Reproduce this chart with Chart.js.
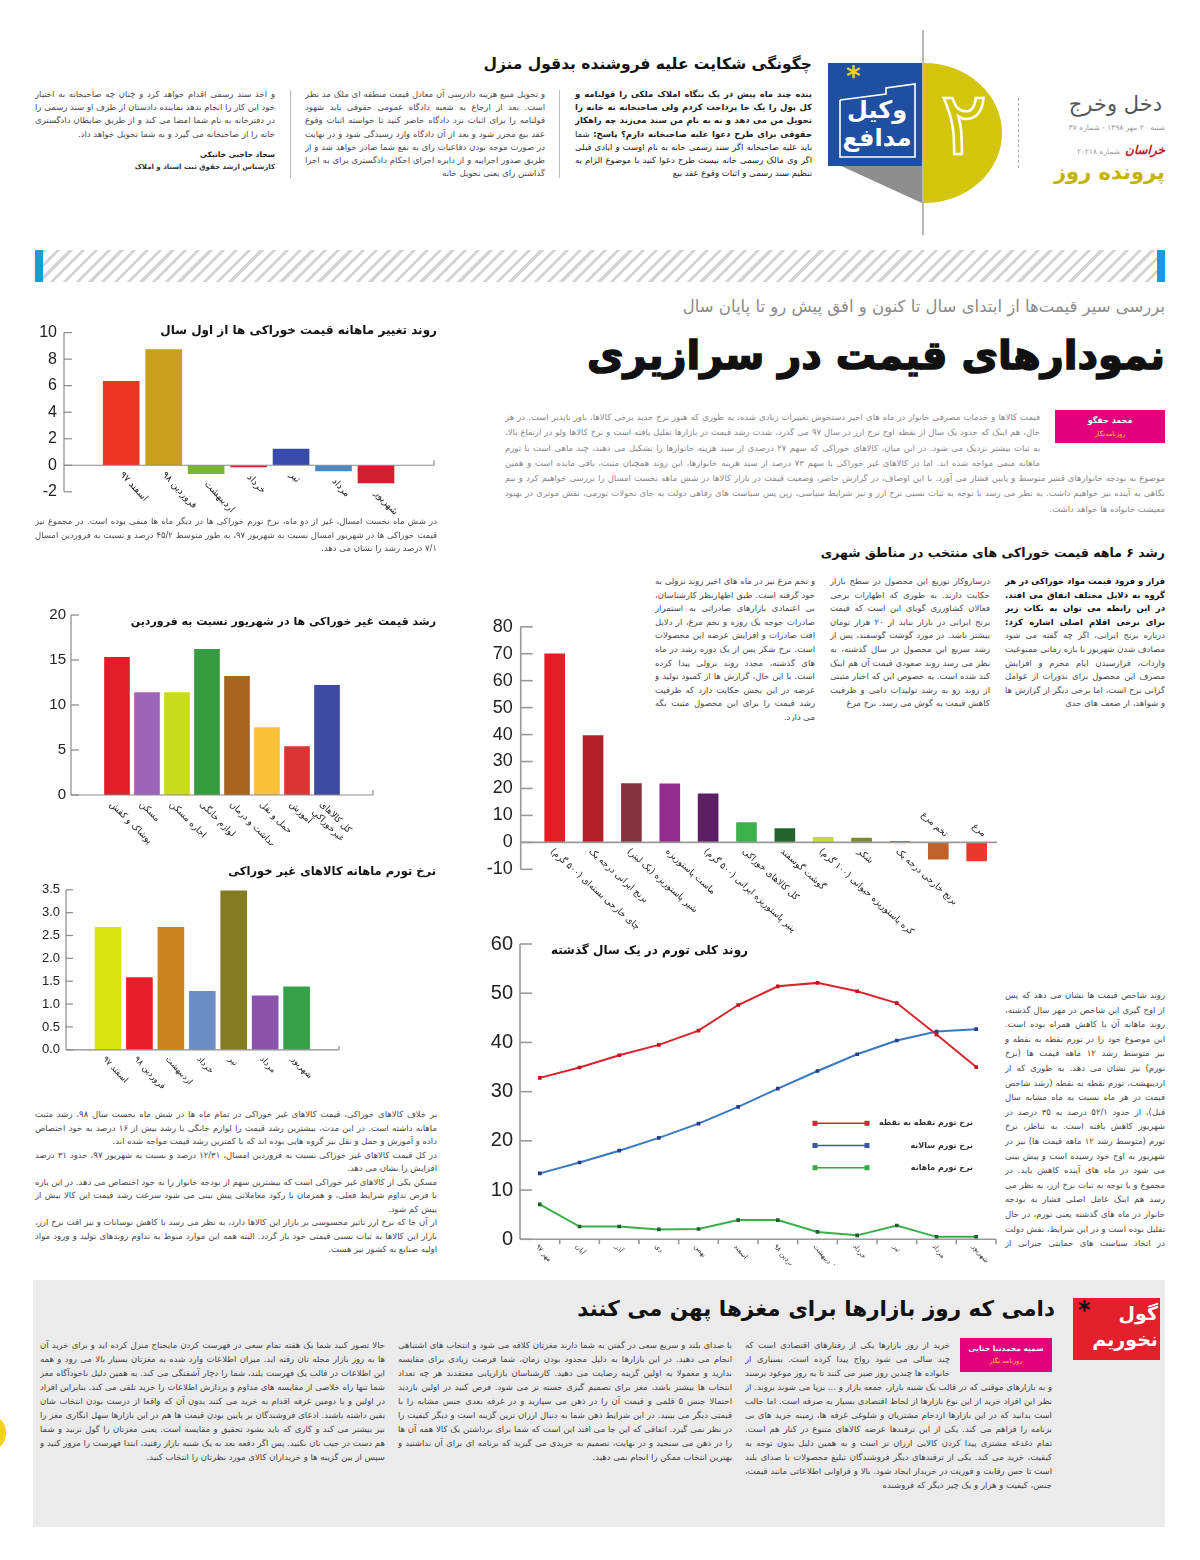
<!DOCTYPE html>
<html lang="fa">
<head>
<meta charset="utf-8">
<title>نمودارهای قیمت در سرازیری</title>
<script src="https://cdn.jsdelivr.net/npm/chart.js@4.4.1/dist/chart.umd.min.js"></script>
<style>
  html, body { margin: 0; padding: 0; background: #fff; }
  #page { position: relative; width: 1200px; height: 1560px; overflow: hidden; font-family: "DejaVu Sans", sans-serif; color: #222; }
  .abs { position: absolute; }
  .fa { direction: rtl; font-family: "DejaVu Sans", sans-serif; }
  .body { font-size: 8.5px; line-height: 13.5px; color: #4a4a4a; text-align: justify; overflow: hidden; }
  .ttl { font-weight: bold; white-space: nowrap; color: #111; }
  .chart { position: absolute; direction: ltr; }
  .sep { position: absolute; width: 1px; background: #bbb; }
</style>
</head>
<body>
<div id="page">

  <!-- header: legal Q&A -->
  <div class="abs fa ttl" style="right:388px; top:55px; font-size:15.5px">چگونگی شکایت علیه فروشنده بدقول منزل</div>
  <div class="abs fa body" style="right:388px; top:88px; width:237px; height:96px; line-height:13.2px; color:#222">
    <b>بنده چند ماه پیش در یک بنگاه املاک ملکی را قولنامه و کل پول را یک جا پرداخت کردم ولی صاحبخانه نه خانه را تحویل من می دهد و نه به نام من سند می‌زند چه راهکار حقوقی برای طرح دعوا علیه صاحبخانه دارم؟</b>
    <b>پاسخ:</b> شما باید علیه صاحبخانه اگر سند رسمی خانه به نام اوست و ایادی قبلی اگر وی مالک رسمی خانه نیست طرح دعوا کنید با موضوع الزام به تنظیم سند رسمی و اثبات وقوع عقد بیع
  </div>
  <div class="sep" style="left:559px; top:90px; height:88px"></div>
  <div class="abs fa body" style="right:655px; top:88px; width:240px; height:96px; line-height:13.2px">
    و تحویل مبیع هزینه دادرسی آن معادل قیمت منطقه ای ملک مد نظر است. بعد از ارجاع به شعبه دادگاه عمومی حقوقی باید شهود قولنامه را برای اثبات نزد دادگاه حاضر کنید تا خواسته اثبات وقوع عقد بیع محرز شود و بعد از آن دادگاه وارد رسیدگی شود و در نهایت در صورت موجه بودن دفاعیات رای به نفع شما صادر خواهد شد و از طریق صدور اجراییه و از دایره اجرای احکام دادگستری برای به اجرا گذاشتن رای یعنی تحویل خانه
  </div>
  <div class="sep" style="left:290px; top:90px; height:88px"></div>
  <div class="abs fa body" style="right:925px; top:88px; width:240px; height:56px; line-height:13.2px">
    و اخذ سند رسمی اقدام خواهد کرد و چنان چه صاحبخانه به اختیار خود این کار را انجام ندهد نماینده دادستان از طرف او سند رسمی را در دفترخانه به نام شما امضا می کند و از طریق ضابطان دادگستری خانه را از صاحبخانه می گیرد و به شما تحویل خواهد داد.
  </div>
  <div class="abs fa" style="right:925px; top:150px; font-size:7.5px; font-weight:bold; color:#222; white-space:nowrap">سجاد حاجبی خانیکی</div>
  <div class="abs fa" style="right:925px; top:163px; font-size:7px; font-weight:bold; color:#333; white-space:nowrap">کارشناس ارشد حقوق ثبت اسناد و املاک</div>

  <!-- header: badge -->
  <div class="abs" style="left:922px; top:30px; width:2px; height:205px; background:#b8b8b8"></div>
  <div class="abs" style="left:924px; top:63px; width:78px; height:140px; background:#d3c40c; border-radius:0 78px 78px 0 / 0 70px 70px 0"></div>
  <div class="abs fa" style="left:932px; top:72px; width:64px; text-align:center; font-size:88px; line-height:104px; color:transparent; -webkit-text-stroke:2.5px #fff">۲</div>
  <div class="abs" style="left:828px; top:160px; width:94px; height:43px; background:#8e8e8e; clip-path:polygon(0 0,100% 0,100% 100%)"></div>
  <div class="abs" style="left:828px; top:63px; width:94px; height:103px; background:#1f4fa0"></div>
  <svg class="abs" style="left:828px; top:63px" width="94" height="103">
    <polyline points="12,37 58,31 58,25 87,21 87,94 12,94 12,37" fill="none" stroke="#fff" stroke-width="1.6"/>
  </svg>
  <div class="abs" style="left:846px; top:60px; font-size:28px; font-weight:bold; color:#e8d21a">*</div>
  <div class="abs fa" style="left:836px; top:96px; width:82px; text-align:center; font-size:24px; line-height:28px; font-weight:bold; color:#fff">وکیل<br>مدافع</div>
  <div class="abs" style="left:1018px; top:98px; height:70px; border-left:1px dashed #aaa"></div>
  <div class="abs fa" style="right:38px; top:92px; font-size:21px; color:#555; white-space:nowrap">دخل وخرج</div>
  <div class="abs fa" style="right:35px; top:123px; font-size:7.5px; color:#999; white-space:nowrap">شنبه ۲۰ مهر ۱۳۹۸ - شماره ۳۷</div>
  <div class="abs fa" style="right:35px; top:139px; white-space:nowrap"><span style="color:#c8102e; font-weight:bold; font-style:italic; font-size:12px">خراسان</span> <span style="color:#999; font-size:7.5px">شماره ۲۰۲۱۸</span></div>
  <div class="abs fa" style="right:35px; top:160px; font-size:21px; font-weight:bold; color:#c6b300; white-space:nowrap">پرونده روز</div>

  <!-- stripe bar -->
  <div class="abs" style="left:35px; top:250px; width:1130px; height:32px; background:repeating-linear-gradient(135deg,#fff 0 6px,#d4d4d4 6px 9px)"></div>
  <div class="abs" style="left:35px; top:250px; width:8px; height:32px; background:#1a9ad6"></div>
  <div class="abs" style="left:1157px; top:250px; width:8px; height:32px; background:#1a9ad6"></div>

  <!-- headline -->
  <div class="abs fa" style="right:35px; top:297px; font-size:16.5px; color:#8a8a8a; white-space:nowrap">بررسی سیر قیمت‌ها از ابتدای سال تا کنون و افق پیش رو تا پایان سال</div>
  <div class="abs fa ttl" style="right:35px; top:332px; font-size:40px; -webkit-text-stroke:1.5px #111">نمودارهای قیمت در سرازیری</div>
  <div class="abs fa body" style="left:505px; top:410px; width:660px; height:108px; line-height:15.3px; color:#888">
    <div style="float:right; width:110px; height:33px; margin:0 0 13px 15px; background:#e4007d; text-align:center; color:#fff; font-weight:bold; font-size:8px; line-height:13px; padding-top:4px; box-sizing:border-box">محمد حقگو<br><span style="color:#ffd23f; font-size:6.5px; font-weight:normal">روزنامه‌نگار</span></div>
    قیمت کالاها و خدمات مصرفی خانوار در ماه های اخیر دستخوش تغییرات زیادی شده، به طوری که هنوز نرخ جدید برخی کالاها، باور ناپذیر است. در هر حال، هم اینک که حدود یک سال از نقطه اوج نرخ ارز در سال ۹۷ می گذرد، شدت رشد قیمت در بازارها تقلیل یافته است و نرخ کالاها ولو در ارتفاع بالا، به ثبات بیشتر نزدیک می شود. در این میان، کالاهای خوراکی که سهم ۲۷ درصدی از سبد هزینه خانوارها را تشکیل می دهند، چند ماهی است با تورم ماهانه منفی مواجه شده اند. اما در کالاهای غیر خوراکی با سهم ۷۳ درصد از سبد هزینه خانوارها، این روند همچنان مثبت، باقی مانده است و همین موضوع به بودجه خانوارهای قشر متوسط و پایین فشار می آورد. با این اوصاف، در گزارش حاضر، وضعیت قیمت در بازار کالاها در شش ماهه نخست امسال را بررسی خواهیم کرد و نیم نگاهی به آینده نیز خواهیم داشت. به نظر می رسد با توجه به ثبات نسبی نرخ ارز و نیز شرایط سیاسی، زین پس سیاست های رفاهی دولت به جای تحولات تورمی، نقش موثری در بهبود معیشت خانواده ها خواهد داشت.
  </div>

  <!-- chart 1 -->
  <div class="chart" style="left:30px; top:316px; width:415px; height:206px"><canvas id="foodMonthlyChart"></canvas></div>
  <div class="abs fa ttl" style="right:763px; top:323px; font-size:12px">روند تغییر ماهانه قیمت خوراکی ها از اول سال</div>
  <div class="abs fa body" style="left:35px; top:515px; width:402px; height:42px">
    در شش ماه نخست امسال، غیر از دو ماه، نرخ تورم خوراکی ها در دیگر ماه ها منفی بوده است. در مجموع نیز قیمت خوراکی ها در شهریور امسال نسبت به شهریور ۹۷، به طور متوسط ۴۵/۲ درصد و نسبت به فروردین امسال ۷/۱ درصد رشد را نشان می دهد.
  </div>

  <!-- chart 2 -->
  <div class="chart" style="left:30px; top:600px; width:415px; height:245px"><canvas id="nonFoodGrowthChart"></canvas></div>
  <div class="abs fa ttl" style="right:764px; top:615px; font-size:11px">رشد قیمت غیر خوراکی ها در شهریور نسبت به فروردین</div>

  <!-- chart 3 -->
  <div class="chart" style="left:30px; top:876px; width:415px; height:215px"><canvas id="nonFoodMonthlyChart"></canvas></div>
  <div class="abs fa ttl" style="right:764px; top:864px; font-size:11.5px">نرخ تورم ماهانه کالاهای غیر خوراکی</div>
  <div class="abs fa body" style="left:35px; top:1108px; width:402px; height:150px">
    بر خلاف کالاهای خوراکی، قیمت کالاهای غیر خوراکی در تمام ماه ها در شش ماه نخست سال ۹۸، رشد مثبت ماهانه داشته است. در این مدت، بیشترین رشد قیمت را لوازم خانگی با رشد بیش از ۱۶ درصد به خود اختصاص داده و آموزش و حمل و نقل نیز گروه هایی بوده اند که با کمترین رشد قیمت مواجه شده اند.<br>
    در کل قیمت کالاهای غیر خوراکی نسبت به فروردین امسال، ۱۲/۳۱ درصد و نسبت به شهریور ۹۷، حدود ۳۱ درصد افزایش را نشان می دهد.<br>
    مسکن یکی از کالاهای غیر خوراکی است که بیشترین سهم از بودجه خانوار را به خود اختصاص می دهد. در این باره با فرض تداوم شرایط فعلی، و همزمان با رکود معاملاتی پیش بینی می شود سرعت رشد قیمت این کالا بیش از پیش کم شود.<br>
    از آن جا که نرخ ارز تاثیر محسوسی بر بازار این کالاها دارد، به نظر می رسد با کاهش نوسانات و نیز افت نرخ ارز، بازار این کالاها به ثبات نسبی قیمتی خود باز گردد. البته همه این موارد منوط به تداوم روندهای تولید و ورود مواد اولیه صنایع به کشور نیز هست.
  </div>

  <!-- chart 4 section -->
  <div class="abs fa ttl" style="right:35px; top:545px; font-size:12.5px">رشد ۶ ماهه قیمت خوراکی های منتخب در مناطق شهری</div>
  <div class="abs fa body" style="right:35px; top:575px; width:160px; height:146px; line-height:13.6px">
    <b style="color:#111">فراز و فرود قیمت مواد خوراکی در هر گروه به دلایل مختلف اتفاق می افتد. در این رابطه می توان به نکات زیر برای برخی اقلام اصلی اشاره کرد:</b>
    درباره برنج ایرانی، اگر چه گفته می شود مصادف شدن شهریور با بازه زمانی ممنوعیت واردات، فرارسیدن ایام محرم و افزایش مصرف این محصول برای نذورات از عوامل گرانی نرخ است، اما برخی دیگر از گزارش ها و شواهد، از ضعف های جدی
  </div>
  <div class="abs fa body" style="right:210px; top:575px; width:160px; height:146px; line-height:13.6px">
    درسازوکار توزیع این محصول در سطح بازار حکایت دارند. به طوری که اظهارات برخی فعالان کشاورزی گویای این است که قیمت برنج ایرانی در بازار نباید از ۲۰ هزار تومان بیشتر باشد. در مورد گوشت گوسفند، پس از رشد سریع این محصول در سال گذشته، به نظر می رسد روند صعودی قیمت آن هم اینک کند شده است. به خصوص این که اخبار مثبتی از روند رو به رشد تولیدات دامی و ظرفیت کاهش قیمت به گوش می رسد. نرخ مرغ
  </div>
  <div class="abs fa body" style="right:385px; top:575px; width:160px; height:146px; line-height:13.6px">
    و تخم مرغ نیز در ماه های اخیر روند نزولی به خود گرفته است. طبق اظهارنظر کارشناسان، بی اعتمادی بازارهای صادراتی به استمرار صادرات جوجه یک روزه و تخم مرغ، از دلایل افت صادرات و افزایش عرضه این محصولات است. نرخ شکر پس از یک دوره رشد در ماه های گذشته، مجدد روند نزولی پیدا کرده است. با این حال، گزارش ها از کمبود تولید و عرضه در این بخش حکایت دارد که ظرفیت رشد قیمت را برای این محصول مثبت نگه می دارد.
  </div>
  <div class="chart" style="left:476px; top:608px; width:529px; height:330px"><canvas id="foodItemsChart"></canvas></div>

  <!-- chart 5 -->
  <div class="chart" style="left:476px; top:925px; width:529px; height:340px"><canvas id="inflationChart"></canvas></div>
  <div class="abs fa ttl" style="right:452px; top:943px; font-size:12px">روند کلی تورم در یک سال گذشته</div>
  <div class="abs fa body" style="right:35px; top:988px; width:160px; height:265px; line-height:14.6px">
    روند شاخص قیمت ها نشان می دهد که پس از اوج گیری این شاخص در مهر سال گذشته، روند ماهانه آن با کاهش همراه بوده است. این موضوع خود را در تورم نقطه به نقطه و نیز متوسط رشد ۱۲ ماهه قیمت ها (نرخ تورم) نیز نشان می دهد. به طوری که از اردیبهشت، تورم نقطه به نقطه (رشد شاخص قیمت در هر ماه نسبت به ماه مشابه سال قبل)، از حدود ۵۲/۱ درصد به ۳۵ درصد در شهریور کاهش یافته است. به تناظر، نرخ تورم (متوسط رشد ۱۲ ماهه قیمت ها) نیز در شهریور به اوج خود رسیده است و پیش بینی می شود در ماه های آینده کاهش یابد. در مجموع و با توجه به ثبات نرخ ارز، به نظر می رسد هم اینک عامل اصلی فشار به بودجه خانوار در ماه های گذشته یعنی تورم، در حال تقلیل بوده است و در این شرایط، نقش دولت در اتخاذ سیاست های حمایتی جبرانی از قشرهای متوسط و ضعیف پررنگ تر خواهد شد.
  </div>

  <!-- bottom section -->
  <div class="abs" style="left:-14px; top:1418px; width:20px; height:30px; border-radius:50%; background:#f3d21c"></div>
  <div class="abs" style="left:33px; top:1280px; width:1132px; height:247px; background:#ebebeb"></div>
  <div class="abs" style="left:1073px; top:1298px; width:87px; height:62px; background:#e3202b"></div>
  <div class="abs fa" style="left:1073px; top:1300px; width:85px; text-align:right; font-size:19px; line-height:26px; font-weight:bold; color:#fff">گول<br>نخوریم</div>
  <div class="abs" style="left:1078px; top:1296px; font-size:24px; font-weight:bold; color:#111">*</div>
  <div class="abs fa ttl" style="right:145px; top:1296px; font-size:21.5px">دامی که روز بازارها برای مغزها پهن می کنند</div>
  <div class="abs fa body" style="right:148px; top:1338px; width:307px; height:175px; line-height:14px; color:#444">
    <div style="float:right; width:92px; height:34px; margin:0 0 8px 10px; background:#e4007d; text-align:center; color:#fff; font-weight:bold; font-size:7.5px; line-height:12px; padding-top:5px; box-sizing:border-box">سمیه محمدنیا حنایی<br><span style="color:#ffd23f; font-size:6.5px; font-weight:normal">روزنامه نگار</span></div>
    خرید از روز بازارها یکی از رفتارهای اقتصادی است که چند سالی می شود رواج پیدا کرده است. بسیاری از خانواده ها چندین روز صبر می کنند تا به روز موعود برسند و به بازارهای موقتی که در قالب یک شنبه بازار، جمعه بازار و ... برپا می شوند بروند. از نظر این افراد خرید از این نوع بازارها از لحاظ اقتصادی بسیار به صرفه است. اما جالب است بدانید که در این بازارها ازدحام مشتریان و شلوغی غرفه ها، زمینه خرید های بی برنامه را فراهم می کند. یکی از این ترفندها عرضه کالاهای متنوع در کنار هم است. تمام دغدغه مشتری پیدا کردن کالایی ارزان تر است و به همین دلیل بدون توجه به کیفیت، خرید می کند. یکی از ترفندهای دیگر فروشندگان تبلیغ محصولات با صدای بلند است تا حس رقابت و فوریت در خریدار ایجاد شود. بالا و فراوانی اطلاعاتی مانند قیمت، جنس، کیفیت و هزار و یک چیز دیگر که فروشنده
  </div>
  <div class="abs fa body" style="right:468px; top:1338px; width:334px; height:175px; line-height:14px; color:#444">
    با صدای بلند و سریع سعی در گفتن به شما دارند مغزتان کلافه می شود و انتخاب های اشتباهی انجام می دهید. در این بازارها به دلیل محدود بودن زمان، شما فرصت زیادی برای مقایسه ندارید و معمولا به اولین گزینه رضایت می دهید. کارشناسان بازاریابی معتقدند هر چه تعداد انتخاب ها بیشتر باشد، مغز برای تصمیم گیری خسته تر می شود. فرض کنید در اولین بازدید احتمالا جنس ۵ قلمی و قیمت آن را در ذهن می سپارید و در غرفه بعدی جنس مشابه را با قیمتی دیگر می بینید. در این شرایط ذهن شما به دنبال ارزان ترین گزینه است و دیگر کیفیت را در نظر نمی گیرد. اتفاقی که این جا می افتد این است که شما برای برداشتن یک کالا همه آن ها را در ذهن می سنجید و در نهایت، تصمیم به خریدی می گیرید که برنامه ای برای آن نداشتید و بهترین انتخاب ممکن را انجام نمی دهید.
  </div>
  <div class="abs fa body" style="right:815px; top:1338px; width:345px; height:175px; line-height:14px; color:#444">
    حالا تصور کنید شما یک هفته تمام سعی در فهرست کردن مایحتاج منزل کرده اید و برای خرید آن ها به روز بازار محله تان رفته اید. میزان اطلاعات وارد شده به مغزتان بسیار بالا می رود و همه این اطلاعات در قالب یک فهرست بلند، شما را دچار آشفتگی می کند. به همین دلیل ناخودآگاه مغز شما تنها راه خلاصی از مقایسه های مداوم و پردازش اطلاعات را خرید تلقی می کند. بنابراین افراد در اولین و یا دومین غرفه اقدام به خرید می کنند بدون آن که واقعا از درست بودن انتخاب شان یقین داشته باشند. ادعای فروشندگان بر پایین بودن قیمت ها هم در این بازارها سهل انگاری مغز را نیز بیشتر می کند و کاری که باید بشود تحقیق و مقایسه است. یعنی مغزتان را گول نزنید و شما هم دست در جیب تان نکنید. پس اگر دفعه بعد به یک شنبه بازار رفتید، ابتدا فهرست را مرور کنید و سپس از بین گزینه ها و خریداران کالای مورد نظرتان را انتخاب کنید.
  </div>
</div>

<script>
// ---- data ----
const foodMonths = ['اسفند ۹۷', 'فروردین ۹۸', 'اردیبهشت', 'خرداد', 'تیر', 'مرداد', 'شهریور'];
const foodMonthlyChange = [6.4, 8.8, -0.7, -0.2, 1.3, -0.5, -1.4];
const foodMonthlyColors = ['#ee3524', '#c9a020', '#7ab530', '#d42027', '#3a4aa8', '#4a8ac4', '#d11f2f'];

const nonFoodGroups = ['پوشاک و کفش', 'مسکن', 'اجاره مسکن', 'لوازم خانگی', 'بهداشت و درمان', 'حمل و نقل', 'آموزش', ['کل کالاهای', 'غیرخوراکی']];
const nonFoodGrowth = [15.4, 11.5, 11.5, 16.3, 13.3, 7.6, 5.5, 12.31];
const nonFoodColors = ['#e31e2a', '#9b65b8', '#c8dc1e', '#349c3e', '#a86420', '#f8c13a', '#d93535', '#3c4aa0'];

const nonFoodMonths = ['اسفند ۹۷', 'فروردین ۹۸', 'اردیبهشت', 'خرداد', 'تیر', 'مرداد', 'شهریور'];
const nonFoodMonthly = [2.7, 1.6, 2.7, 1.3, 3.5, 1.2, 1.4];
const nonFoodMonthlyColors = ['#d8e40e', '#e81e2a', '#cc8420', '#6c8cc4', '#847c24', '#8a52a8', '#36a048'];

const foodItems = ['چای خارجی بسته‌ای (۵۰۰ گرم)', 'برنج ایرانی درجه یک', 'شیر پاستوریزه (یک لیتر)', 'ماست پاستوریزه',
  'پنیر پاستوریزه ایرانی (۵۰۰ گرم)', 'کل کالاهای خوراکی', 'گوشت گوسفند', 'کره پاستوریزه حیوانی (۱۰۰ گرم)', 'شکر',
  'برنج خارجی درجه یک', 'تخم مرغ', 'مرغ'];
const foodItemGrowth = [70.3, 40.0, 22.2, 22.1, 18.4, 7.7, 5.5, 2.2, 2.0, 0.7, -6.6, -7.3];
const foodItemColors = ['#e41e26', '#b3202b', '#83343f', '#932a8e', '#5b1f62', '#3cb04a', '#23632c', '#c4dc34', '#7a8a2a', '#b85454', '#c0622a', '#e83a2c'];

const cpiMonths = ['مهر ۹۷', 'آبان', 'آذر', 'دی', 'بهمن', 'اسفند', 'فروردین ۹۸', 'اردیبهشت', 'خرداد', 'تیر', 'مرداد', 'شهریور'];
const pointToPoint = [32.8, 34.9, 37.4, 39.5, 42.4, 47.6, 51.4, 52.1, 50.4, 48.0, 41.6, 35.0];
const annualRate = [13.4, 15.6, 18.0, 20.6, 23.5, 26.9, 30.6, 34.2, 37.6, 40.4, 42.2, 42.7];
const monthlyRate = [7.1, 2.6, 2.6, 2.0, 2.1, 3.9, 3.9, 1.5, 0.8, 2.8, 0.5, 0.5];

// axes drawn like the newspaper: inward ticks, zero line, slanted persian labels
const newsAxes = {
  id: 'newsAxes',
  afterDatasetsDraw(chart, args, o) {
    const { ctx, chartArea: a } = chart;
    const xs = chart.scales.x, ys = chart.scales.y;
    const zy = ys.getPixelForValue(0);
    const seg = (x1, y1, x2, y2) => { ctx.beginPath(); ctx.moveTo(x1, y1); ctx.lineTo(x2, y2); ctx.stroke(); };
    ctx.save();
    ctx.strokeStyle = o.axisColor;
    ctx.lineWidth = o.axisWidth;
    seg(a.left, a.top, a.left, a.bottom);
    ys.ticks.forEach(t => {
      const py = ys.getPixelForValue(t.value);
      seg(a.left, py, a.left + o.tickLen, py);
    });
    seg(a.left, zy, a.right, zy);
    if (o.endTick) seg(a.right, zy, a.right, zy - o.endTick);
    if (o.dropTicks) {
      chart.data.labels.forEach((l, i) => {
        const px = xs.getPixelForValue(i + 0.5);
        seg(px, zy, px, zy + o.dropTicks);
      });
    }

    const vals = chart.data.datasets[0].data;
    const ang = o.angle * Math.PI / 180;
    ctx.fillStyle = o.labelColor;
    ctx.font = o.labelFont;
    ctx.direction = 'rtl';
    ctx.textBaseline = 'middle';
    chart.data.labels.forEach((lab, i) => {
      const raw = vals[i];
      const v = typeof raw === 'object' ? raw.y : raw;
      const cx = xs.getPixelForValue(i);
      let ax, ay, align;
      if (o.negAbove && v < 0) {
        ax = cx + o.negDx; ay = zy - o.negDy; align = 'right';
      } else {
        ax = cx + o.dx;
        ay = (o.belowBars ? ys.getPixelForValue(Math.min(0, v)) : zy) + o.dy;
        align = 'left';
      }
      ctx.save();
      ctx.translate(ax, ay);
      ctx.rotate(ang);
      ctx.textAlign = align;
      (Array.isArray(lab) ? lab : [lab]).forEach((s, k) => ctx.fillText(s, 0, k * o.lineH));
      ctx.restore();
    });
    ctx.restore();
  }
};

// legend placed inside the line chart: line with square ends, text on the right
const sideLegend = {
  id: 'sideLegend',
  defaults: { display: false },
  afterDatasetsDraw(chart, args, o) {
    if (!o.display) return;
    const { ctx } = chart;
    ctx.save();
    chart.data.datasets.forEach((ds, i) => {
      const y = o.y + i * o.gap;
      ctx.strokeStyle = ds.legendLine;
      ctx.lineWidth = 1.5;
      ctx.beginPath(); ctx.moveTo(o.x1, y); ctx.lineTo(o.x2, y); ctx.stroke();
      ctx.fillStyle = ds.legendBox;
      ctx.fillRect(o.x1 - o.box / 2, y - o.box / 2, o.box, o.box);
      ctx.fillRect(o.x2 - o.box / 2, y - o.box / 2, o.box, o.box);
      ctx.fillStyle = '#333';
      ctx.font = o.font;
      ctx.direction = 'rtl';
      ctx.textAlign = 'right';
      ctx.textBaseline = 'middle';
      ctx.fillText(ds.label, o.textRight, y);
    });
    ctx.restore();
  }
};

Chart.register(newsAxes, sideLegend);

const numFont = size => ({ family: '"Liberation Sans", Arial, sans-serif', size });

function barChart(id, labels, values, colors, o) {
  return new Chart(document.getElementById(id), {
    type: 'bar',
    data: {
      labels,
      datasets: [{
        data: values.map((v, i) => ({ x: i, y: v })),
        backgroundColor: colors,
        borderColor: 'rgba(255,255,255,0.35)',
        borderWidth: 1,
        barThickness: o.barWidth
      }]
    },
    options: {
      responsive: true,
      maintainAspectRatio: false,
      animation: false,
      layout: { padding: o.pad },
      plugins: {
        legend: { display: false },
        tooltip: { enabled: false },
        newsAxes: Object.assign({
          axisColor: '#8a8a8a', axisWidth: 1.2, labelColor: '#222', lineH: 11, belowBars: true
        }, o.axes)
      },
      scales: {
        x: {
          type: 'linear', display: false, bounds: 'data', offset: false,
          min: o.xMin, max: o.xMax,
          afterBuildTicks: s => { s.min = o.xMin; s.max = o.xMax; }
        },
        y: {
          min: o.yMin, max: o.yMax,
          grid: { display: false, drawTicks: false },
          border: { display: false },
          ticks: { stepSize: o.step, font: numFont(o.tickSize), color: '#222', padding: o.tickPad, callback: o.fmt || (v => v) },
          afterFit: s => { s.width = o.yWidth; }
        }
      }
    }
  });
}

barChart('foodMonthlyChart', foodMonths, foodMonthlyChange, foodMonthlyColors, {
  pad: { top: 15.2, right: 11, bottom: 30.2, left: 0 }, yWidth: 34,
  xMin: -1.347, xMax: 7.366, barWidth: 38,
  yMin: -2, yMax: 10, step: 2, tickSize: 16, tickPad: 7,
  axes: { tickLen: 8, endTick: 5, angle: 47, labelFont: '9.5px "DejaVu Sans"', dx: 0, dy: 8 }
});

barChart('nonFoodGrowthChart', nonFoodGroups, nonFoodGrowth, nonFoodColors, {
  pad: { top: 15, right: 72, bottom: 50, left: 0 }, yWidth: 41,
  xMin: -1.533, xMax: 8.533, barWidth: 27,
  yMin: 0, yMax: 20, step: 5, tickSize: 15, tickPad: 5,
  axes: { tickLen: 8, endTick: 5, angle: 45, labelFont: '9px "DejaVu Sans"', dx: -6, dy: 8 }
});

barChart('nonFoodMonthlyChart', nonFoodMonths, nonFoodMonthly, nonFoodMonthlyColors, {
  pad: { top: 13.8, right: 106, bottom: 41.2, left: 0 }, yWidth: 36,
  xMin: -1.336, xMax: 7.349, barWidth: 28,
  yMin: 0, yMax: 3.5, step: 0.5, tickSize: 13, tickPad: 6, fmt: v => v.toFixed(1),
  axes: { tickLen: 7, endTick: 4, angle: 47, labelFont: '8.5px "DejaVu Sans"', dx: -4, dy: 8 }
});

barChart('foodItemsChart', foodItems, foodItemGrowth, foodItemColors, {
  pad: { top: 17, right: 8, bottom: 68.7, left: 0 }, yWidth: 44.7,
  xMin: -0.886, xMax: 11.53, barWidth: 22,
  yMin: -10, yMax: 80, step: 10, tickSize: 18, tickPad: 8,
  axes: { tickLen: 12, endTick: 0, angle: 42, labelFont: '9px "DejaVu Sans"', dx: -3, dy: 8,
          belowBars: false, negAbove: true, negDx: 8, negDy: 7, axisColor: '#999', axisWidth: 1.6 }
});

new Chart(document.getElementById('inflationChart'), {
  type: 'line',
  data: {
    labels: cpiMonths,
    datasets: [
      { label: 'نرخ تورم نقطه به نقطه', data: pointToPoint, borderColor: '#d8252d', pointBackgroundColor: '#c4161f',
        pointBorderColor: '#c4161f', legendLine: '#d8252d', legendBox: '#d8252d' },
      { label: 'نرخ تورم سالانه', data: annualRate, borderColor: '#3a78c0', pointBackgroundColor: '#283c8c',
        pointBorderColor: '#283c8c', legendLine: '#3c56a8', legendBox: '#3c56a8' },
      { label: 'نرخ تورم ماهانه', data: monthlyRate, borderColor: '#3aae4a', pointBackgroundColor: '#1f5f2e',
        pointBorderColor: '#1f5f2e', legendLine: '#2fae48', legendBox: '#2fae48' }
    ].map(ds => Object.assign(ds, { borderWidth: 2, pointStyle: 'rect', pointRadius: 2.6, pointBorderWidth: 0, tension: 0, fill: false }))
  },
  options: {
    responsive: true,
    maintainAspectRatio: false,
    animation: false,
    layout: { padding: { top: 15, right: 9, bottom: 25.7, left: 0 } },
    plugins: {
      legend: { display: false },
      tooltip: { enabled: false },
      newsAxes: { axisColor: '#999', axisWidth: 1.6, tickLen: 12, dropTicks: 5, angle: 50,
                  labelFont: '7px "DejaVu Sans"', labelColor: '#333', dx: -3, dy: 6, lineH: 9, belowBars: false },
      sideLegend: { display: true, x1: 339, x2: 391, y: 198.3, gap: 22.2, box: 5, textRight: 497,
                    font: 'bold 8px "DejaVu Sans"' }
    },
    scales: {
      x: { type: 'category', offset: true, display: false },
      y: {
        min: 0, max: 60,
        grid: { display: false, drawTicks: false },
        border: { display: false },
        ticks: { stepSize: 10, font: numFont(20), color: '#222', padding: 7 },
        afterFit: s => { s.width = 44; }
      }
    }
  }
});
</script>
</body>
</html>
